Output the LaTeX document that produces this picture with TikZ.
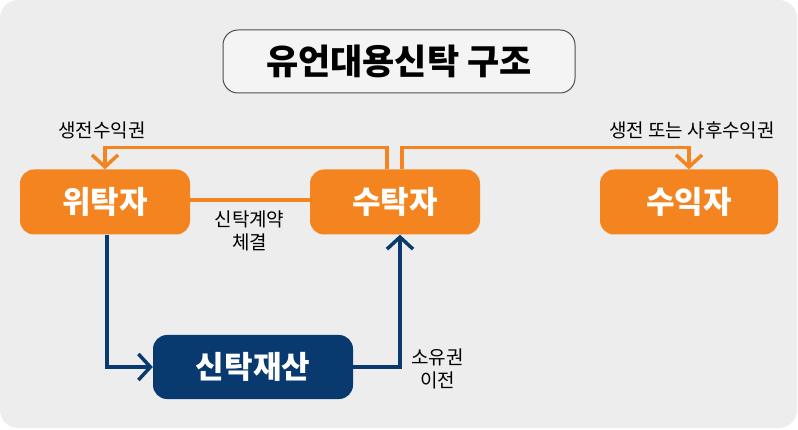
\documentclass[tikz,border=0pt]{standalone}
\usepackage{fontspec}
\setmainfont{Noto Sans CJK KR}
\usetikzlibrary{arrows.meta}
\definecolor{bgc}{HTML}{EDEDED}
\definecolor{orangec}{HTML}{F4841F}
\definecolor{navyc}{HTML}{083A70}
\definecolor{framec}{HTML}{4A4F57}
\tikzset{
  obox/.style={fill=orangec, rounded corners=14pt, minimum width=170pt, minimum height=65pt, text=white, font=\fontsize{31}{34}\selectfont\bfseries, inner sep=0pt},
  nbox/.style={fill=navyc, rounded corners=14pt, minimum width=200pt, minimum height=64pt, text=white, font=\fontsize{31}{34}\selectfont\bfseries, inner sep=0pt},
  oline/.style={draw=orangec, line width=3.5pt},
  nline/.style={draw=navyc, line width=3.5pt},
  tip/.style={-{Straight Barb[length=12pt,width=26pt]}},
  lbl/.style={font=\fontsize{19}{23}\selectfont, text=black, align=center, inner sep=0pt}
}
\begin{document}
\begin{tikzpicture}[x=1pt,y=-1pt]
\useasboundingbox (0,0) rectangle (798,430);
\fill[bgc, rounded corners=18pt] (0,0) rectangle (797,428);
\node[draw=framec, line width=1pt, fill=bgc!60!white, rounded corners=15pt, minimum width=352pt, minimum height=63pt, inner sep=0pt, font=\fontsize{35}{38}\selectfont\bfseries] (title) at (399,61.5) {유언대용신탁 구조};
\node[obox] (witak) at (105,202) {위탁자};
\node[obox] (sutak) at (395,202) {수탁자};
\node[obox, minimum width=178pt] (suik) at (689,202) {수익자};
\node[nbox] (sanjae) at (253,367) {신탁재산};
\draw[oline, tip] ([xshift=-8pt]sutak.north) -- ++(0,-22) -| (witak.north);
\draw[oline, tip] ([xshift=7pt]sutak.north) -- ++(0,-22) -| (suik.north);
\draw[oline] ([yshift=2pt]witak.east) -- ([yshift=2pt]sutak.west);
\draw[nline, tip] ([xshift=2pt]witak.south) |- (sanjae.west);
\draw[nline, tip] (sanjae.east) -| ([xshift=5pt]sutak.south);
\node[lbl] (l1) at (102,130) {생전수익권};
\node[lbl] (l2) at (692,130) {생전 또는 사후수익권};
\node[lbl] (l3) at (249.5,231) {신탁계약\\체결};
\node[lbl] (l4) at (437.5,369) {소유권\\이전};
\end{tikzpicture}
\end{document}
